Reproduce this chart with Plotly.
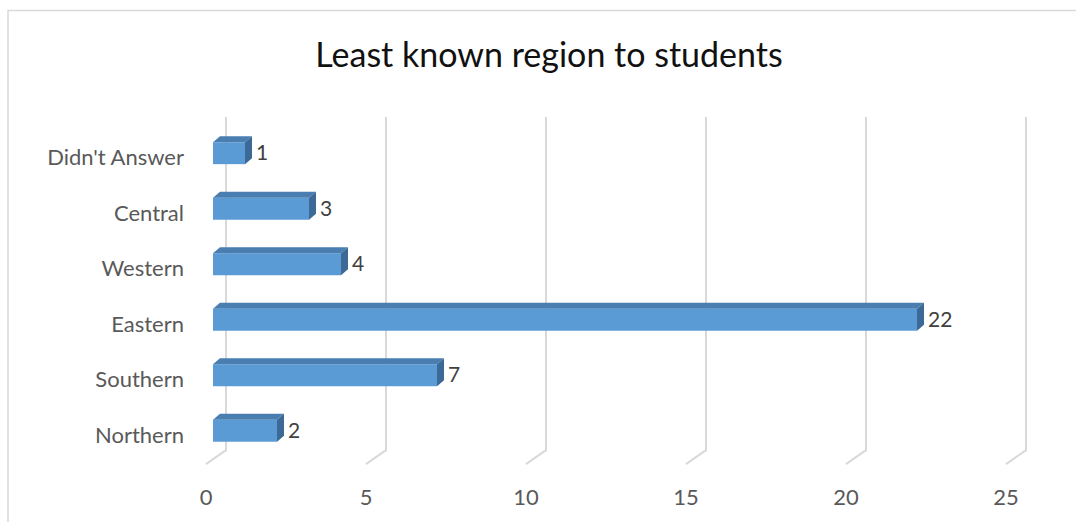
import plotly.graph_objects as go

# Survey results: region least known to students
categories = ["Northern", "Southern", "Eastern", "Western", "Central", "Didn't Answer"]
counts = [2, 7, 22, 4, 3, 1]
x_ticks = [0, 5, 10, 15, 20, 25]

W, H = 1076, 522
FONT = "Lato"

# pixel geometry of the plotting area
L_PX, R_PX, T_PX, B_PX = 195, 1060, 100, 478
X0_PX, X_UNIT = 213, 32.0          # front face of bars: value 0 at this pixel, px per unit
FLOOR_PX = 206                     # front edge of the floor (where tick labels sit)
Y0_PX, Y_UNIT = 437, 55.8          # first category label centre, px per category

bar_range = [(L_PX - X0_PX) / X_UNIT, (R_PX - X0_PX) / X_UNIT]
floor_range = [(L_PX - FLOOR_PX) / X_UNIT, (R_PX - FLOOR_PX) / X_UNIT]
y_range = [(Y0_PX - B_PX) / Y_UNIT, (Y0_PX - T_PX) / Y_UNIT]

# 3-D bar geometry (perspective lifts bars slightly above their category label)
BAR_H = 22 / Y_UNIT
BAR_LIFT = 4.5 / Y_UNIT
VALUE_LIFT = 2.5 / Y_UNIT
DX = 7 / X_UNIT
DY = 6 / Y_UNIT
LABEL_GAP = 4 / X_UNIT

# back-wall gridlines with their floor diagonals (floor axis coordinates)
WALL_DX = 20 / X_UNIT
grid_top = (Y0_PX - 117) / Y_UNIT
grid_back = (Y0_PX - 452) / Y_UNIT
grid_front = (Y0_PX - 466) / Y_UNIT
gx, gy = [], []
for v in x_ticks:
    gx += [v + WALL_DX, v + WALL_DX, v, None]
    gy += [grid_top, grid_back, grid_front, None]

ypos = list(range(len(categories)))
bar_y = [k + BAR_LIFT for k in ypos]

top_x, top_y, side_x, side_y = [], [], [], []
for k, v in zip(bar_y, counts):
    t = k + BAR_H / 2
    b = k - BAR_H / 2
    top_x += [0, v, v + DX, DX, 0, None]
    top_y += [t, t, t + DY, t + DY, t, None]
    side_x += [v, v, v + DX, v + DX, v, None]
    side_y += [b, t, t + DY, b + DY, b, None]

fig = go.Figure()
# gridlines live on the floor axis (drawn first, underneath)
fig.add_trace(go.Scatter(x=gx, y=gy, mode="lines", xaxis="x",
                         line=dict(color="#d9d9d9", width=2),
                         hoverinfo="skip", showlegend=False))
# bars live on the overlaid bar axis
fig.add_trace(go.Bar(x=counts, y=bar_y, orientation="h", width=BAR_H, xaxis="x2",
                     marker=dict(color="#5B9BD5", line=dict(width=0)),
                     showlegend=False))
fig.add_trace(go.Scatter(x=top_x, y=top_y, mode="lines", fill="toself", xaxis="x2",
                         fillcolor="#4a7db0", line=dict(width=0),
                         hoverinfo="skip", showlegend=False))
fig.add_trace(go.Scatter(x=side_x, y=side_y, mode="lines", fill="toself", xaxis="x2",
                         fillcolor="#3d6996", line=dict(width=0),
                         hoverinfo="skip", showlegend=False))
fig.add_trace(go.Scatter(x=[v + DX + LABEL_GAP for v in counts],
                         y=[k + VALUE_LIFT for k in ypos], mode="text",
                         xaxis="x2", text=[str(v) for v in counts],
                         textposition="middle right",
                         textfont=dict(family=FONT, size=21, color="#404040"),
                         hoverinfo="skip", showlegend=False))

fig.update_layout(
    width=W, height=H,
    margin=dict(l=L_PX, r=W - R_PX, t=T_PX, b=H - B_PX),
    paper_bgcolor="white", plot_bgcolor="white",
    title=dict(text="Least known region to students", x=549 / W, xref="container",
               xanchor="center", y=1 - 55 / H, yref="container", yanchor="middle",
               font=dict(family=FONT, size=34, color="#111111")),
    xaxis=dict(range=floor_range, tickvals=x_ticks, ticktext=[str(v) for v in x_ticks],
               showgrid=False, zeroline=False, showline=False, ticks="",
               ticklabelstandoff=6,
               tickfont=dict(family=FONT, size=22, color="#595959")),
    xaxis2=dict(range=bar_range, overlaying="x", side="bottom", anchor="y",
                showgrid=False, zeroline=False, showline=False,
                showticklabels=False, ticks=""),
    yaxis=dict(range=y_range, tickvals=ypos, ticktext=categories,
               showgrid=False, zeroline=False, showline=False, ticks="",
               ticklabelstandoff=10,
               tickfont=dict(family=FONT, size=22, color="#595959")),
    shapes=[dict(type="rect", xref="paper", yref="paper",
                 x0=(8 - L_PX) / (R_PX - L_PX), x1=(1090 - L_PX) / (R_PX - L_PX),
                 y0=(B_PX - 540) / (B_PX - T_PX), y1=(B_PX - 10) / (B_PX - T_PX),
                 line=dict(color="#d9d9d9", width=1.5), layer="below")],
)

fig.write_html("out.html")
